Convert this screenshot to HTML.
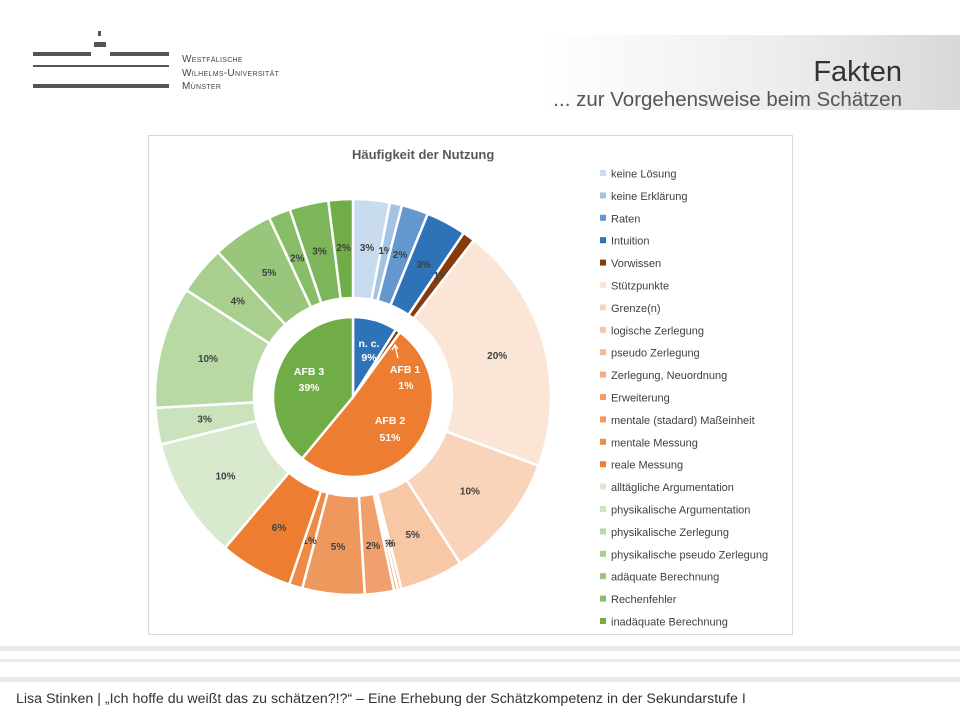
<!DOCTYPE html>
<html><head><meta charset="utf-8"><style>
body{margin:0;width:960px;height:720px;background:#fff;position:relative;overflow:hidden;font-family:"Liberation Sans",sans-serif}
.abs{position:absolute}
.bar{position:absolute;background:#555;height:4px}
</style></head><body>
<!-- logo -->
<div class="abs" style="left:98px;top:31px;width:3px;height:5px;background:#555"></div>
<div class="abs" style="left:94px;top:42px;width:12px;height:5px;background:#555"></div>
<div class="bar" style="left:33px;top:52px;width:58px"></div>
<div class="bar" style="left:110px;top:52px;width:59px"></div>
<div class="bar" style="left:33px;top:65px;width:136px;height:2px"></div>
<div class="bar" style="left:33px;top:84px;width:136px"></div>
<div class="abs" style="left:182px;top:53px;font-size:10px;line-height:13.5px;color:#444;font-variant:small-caps;letter-spacing:0.3px">Westfälische<br>Wilhelms-Universität<br>Münster</div>
<!-- header band -->
<div class="abs" style="left:540px;top:35px;width:420px;height:75px;background:linear-gradient(90deg,#fff 0%,#ececec 60%,#d8d8d8 100%)"></div>
<div class="abs" style="right:58px;top:56px;font-size:29px;color:#333">Fakten</div>
<div class="abs" style="right:58px;top:88px;font-size:20.5px;color:#555">... zur Vorgehensweise beim Schätzen</div>
<!-- chart frame -->
<div class="abs" style="left:148px;top:135px;width:643px;height:498px;border:1px solid #d9d9d9"></div>
<div class="abs" style="left:352px;top:147px;font-size:13px;font-weight:bold;color:#595959">Häufigkeit der Nutzung</div>
<svg id="s" class="abs" style="left:0;top:0" width="960" height="720"></svg>
<!-- footer -->
<div class="abs" style="left:0;top:646px;width:960px;height:5px;background:#e9e9e9"></div>
<div class="abs" style="left:0;top:659px;width:960px;height:3px;background:#e9e9e9"></div>
<div class="abs" style="left:0;top:677px;width:960px;height:5px;background:#e9e9e9"></div>
<div class="abs" style="left:16px;top:691px;font-size:14.2px;color:#333">Lisa Stinken | „Ich hoffe du weißt das zu schätzen?!?“ – Eine Erhebung der Schätzkompetenz in der Sekundarstufe I</div>
<script>
var NS="http://www.w3.org/2000/svg",s=document.getElementById('s');
var cx=353,cy=397;
function pt(r,a){a=a*Math.PI/180;return [cx+r*Math.sin(a),cy-r*Math.cos(a)];}
function arc(r0,r1,a0,a1,fill){var big=(a1-a0)>180?1:0,p0=pt(r1,a0),p1=pt(r1,a1),d;
if(r0==0){d="M"+cx+","+cy+"L"+p0+"A"+r1+","+r1+" 0 "+big+" 1 "+p1+"Z";}
else{var q0=pt(r0,a1),q1=pt(r0,a0);d="M"+p0+"A"+r1+","+r1+" 0 "+big+" 1 "+p1+"L"+q0+"A"+r0+","+r0+" 0 "+big+" 0 "+q1+"Z";}
var e=document.createElementNS(NS,"path");e.setAttribute("d",d);e.setAttribute("fill",fill);e.setAttribute("stroke","#fff");e.setAttribute("stroke-width","2.5");s.appendChild(e);}
function txt(x,y,t,c,w,sz){var e=document.createElementNS(NS,"text");e.setAttribute("x",x);e.setAttribute("y",y);e.setAttribute("text-anchor","middle");e.setAttribute("font-size",sz||10);e.setAttribute("font-weight",w||"bold");e.setAttribute("fill",c);e.setAttribute("font-family","Liberation Sans, sans-serif");e.textContent=t;s.appendChild(e);}
var outer=[[3,"#c9dbee","3%"],[1,"#a3c3e4","1%"],[2.2,"#6497cd","2%"],[3.3,"#2e72b8","3%"],[1,"#843c0c","1%"],
[20.3,"#fbe5d7","20%"],[10.3,"#f9d4bb","10%"],[5.2,"#f7c7a6","5%"],[0.3,"#f5bb94","0%"],[0.3,"#f3ad80","0%"],[2.4,"#f1a06d","2%"],[5.1,"#ef985d","5%"],[1.1,"#ee8a45","1%"],[6.0,"#ed7d31","6%"],
[10,"#d8e9cd","10%"],[3,"#cbe3bd","3%"],[10,"#b9d9a4","10%"],[4,"#a8cf8e","4%"],[5,"#99c67b","5%"],[1.8,"#88bd68","2%"],[3.2,"#7db55a","3%"],[2,"#70ad47","2%"]];
var names=["keine Lösung","keine Erklärung","Raten","Intuition","Vorwissen","Stützpunkte","Grenze(n)","logische Zerlegung","pseudo Zerlegung","Zerlegung, Neuordnung","Erweiterung","mentale (stadard) Maßeinheit","mentale Messung","reale Messung","alltägliche Argumentation","physikalische Argumentation","physikalische Zerlegung","physikalische pseudo Zerlegung","adäquate Berechnung","Rechenfehler","inadäquate Berechnung"];
var tot=0;outer.forEach(function(o){tot+=o[0];});
var a=0;outer.forEach(function(o){var da=o[0]/tot*360;arc(99,198,a,a+da,o[1]);var m=pt(150,a+da/2);txt(m[0],m[1]+3.5,o[2],"#404040");a+=da;});
var inner=[[9,"#2e72b8"],[1,"#843c0c"],[51,"#ed7d31"],[39,"#70ad47"]];
a=0;inner.forEach(function(o){var da=o[0]/100*360;arc(0,80,a,a+da,o[1]);a+=da;});
txt(369,347,"n. c.","#fff","bold",10.5);txt(369,361,"9%","#fff","bold",10.5);
txt(405,373,"AFB 1","#fff","bold",10.5);txt(406,389,"1%","#fff","bold",10.5);
txt(390,424,"AFB 2","#fff","bold",10.5);txt(390,441,"51%","#fff","bold",10.5);
txt(309,375,"AFB 3","#fff","bold",10.5);txt(309,391,"39%","#fff","bold",10.5);
var l=document.createElementNS(NS,"path");l.setAttribute("d","M398,358 L395,346 M392,350 L395,345 L398,349");l.setAttribute("stroke","#fff");l.setAttribute("stroke-width","1.3");l.setAttribute("fill","none");s.appendChild(l);
var cols=["#c9dbee","#a3c3e4","#6497cd","#2e72b8","#843c0c","#fbe5d7","#f9d4bb","#f7c7a6","#f5bb94","#f3ad80","#f1a06d","#ef985d","#ee8a45","#ed7d31","#d8e9cd","#cbe3bd","#b9d9a4","#a8cf8e","#99c67b","#88bd68","#70ad47"];
names.forEach(function(n,i){var y=174+i*22.4;var r=document.createElementNS(NS,"rect");r.setAttribute("x",600);r.setAttribute("y",y-4);r.setAttribute("width",6);r.setAttribute("height",6);r.setAttribute("fill",cols[i]);s.appendChild(r);
var e=document.createElementNS(NS,"text");e.setAttribute("x",611);e.setAttribute("y",y+3.5);e.setAttribute("font-size",11);e.setAttribute("fill","#404040");e.setAttribute("font-family","Liberation Sans, sans-serif");e.textContent=n;s.appendChild(e);});
</script>
</body></html>
